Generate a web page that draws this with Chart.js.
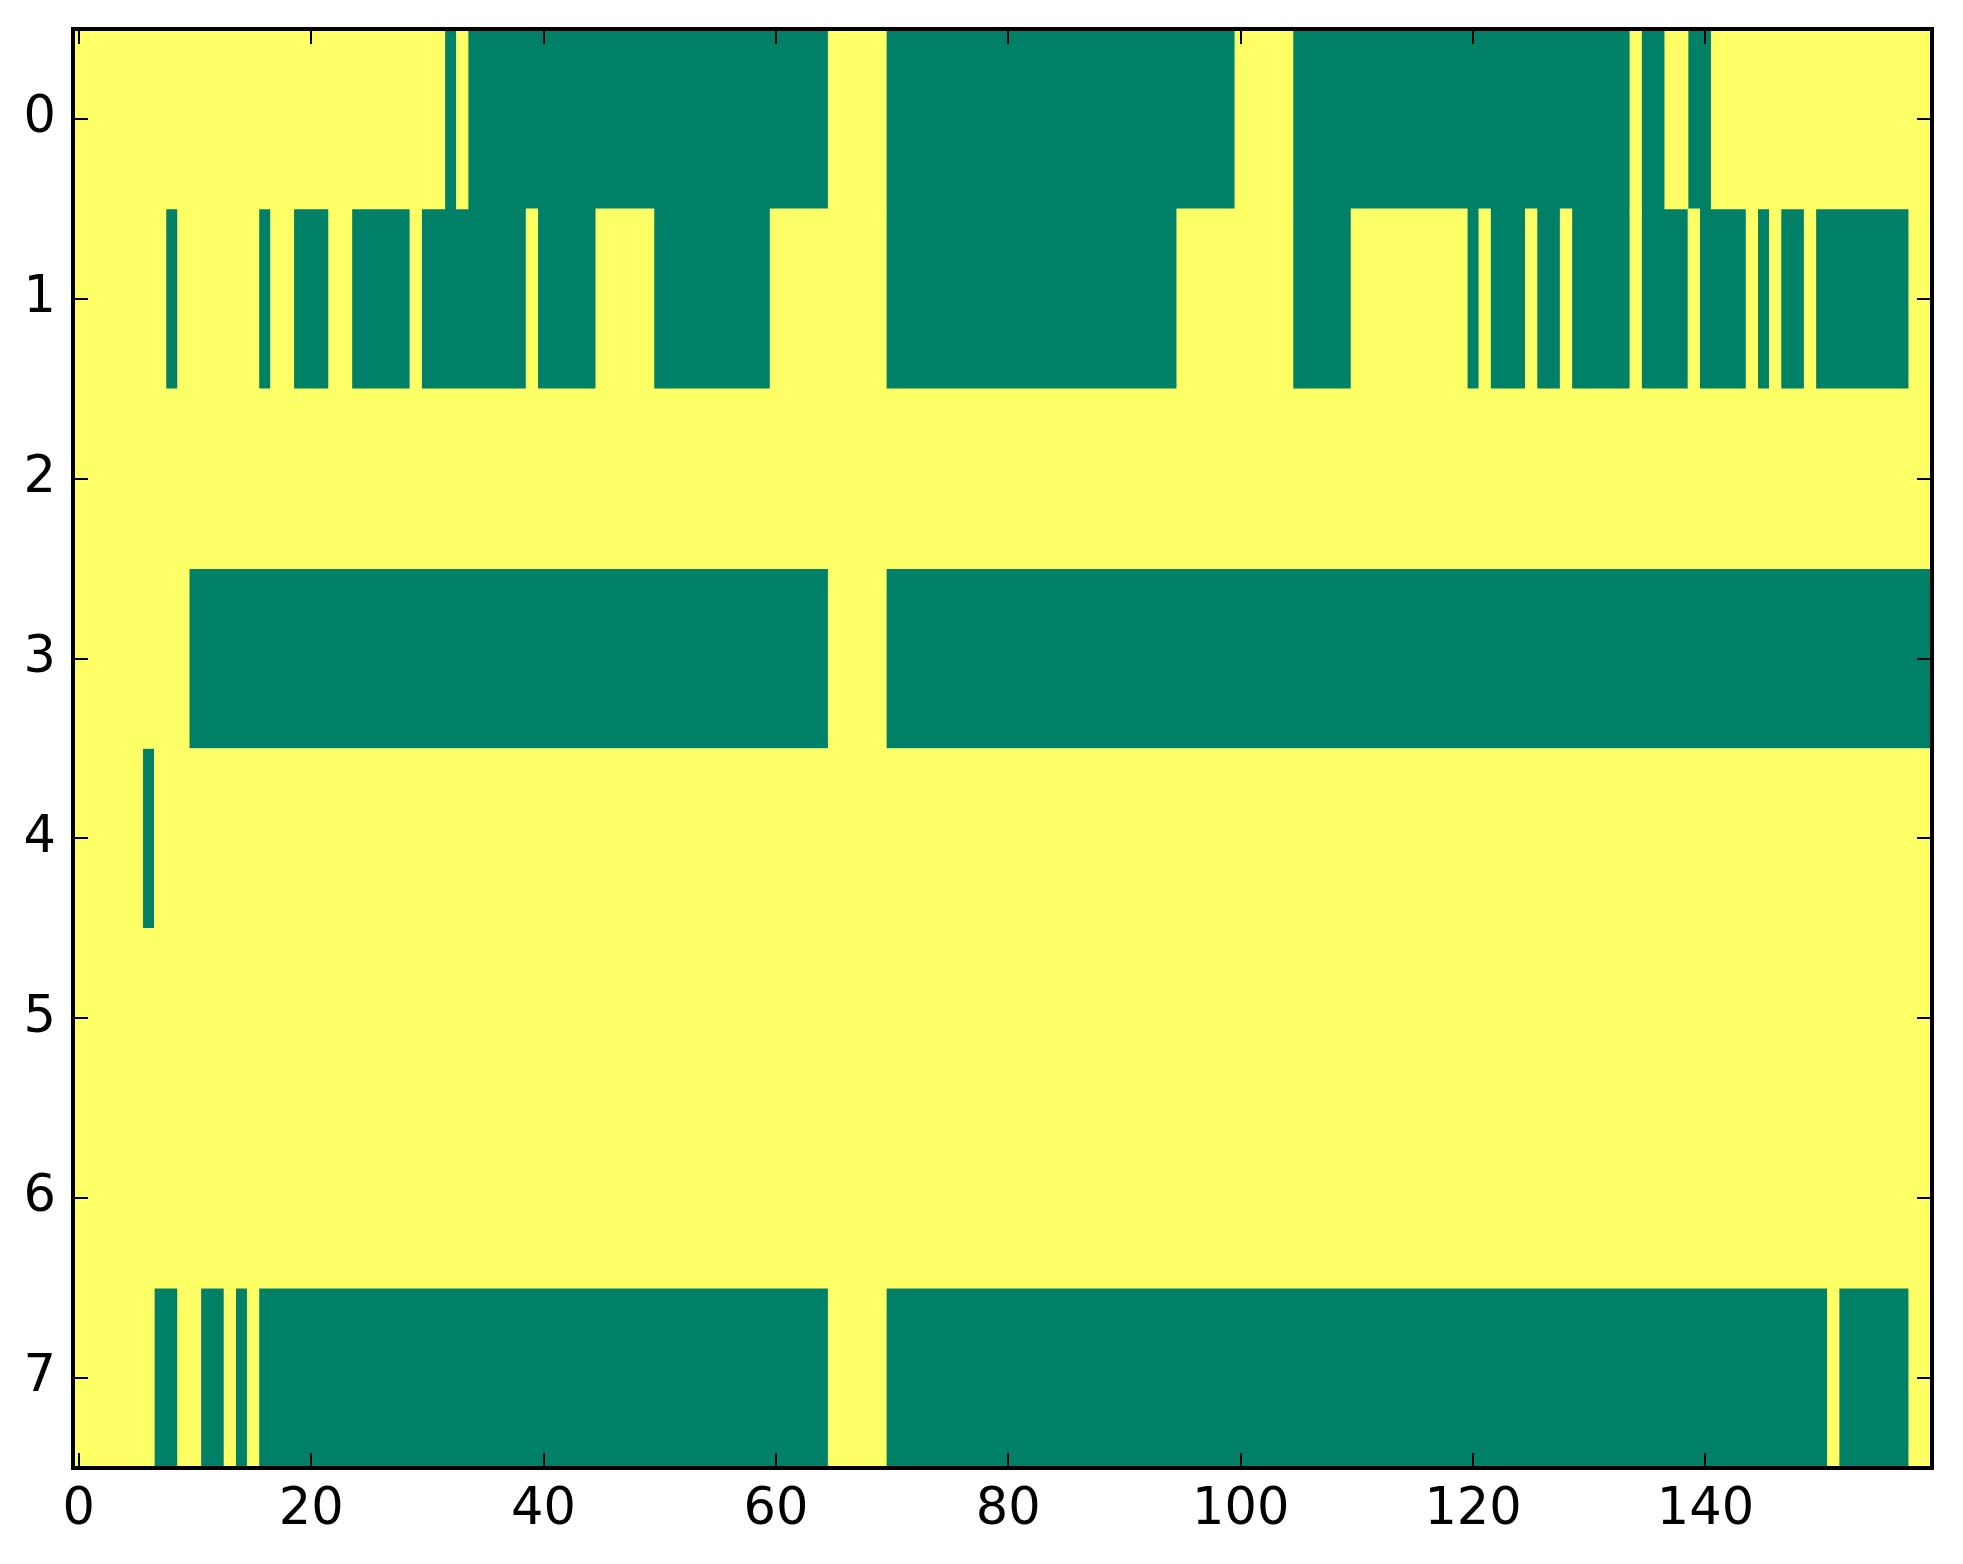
<!DOCTYPE html>
<html>
<head>
<meta charset="utf-8">
<script src="https://cdn.jsdelivr.net/npm/chart.js@4.4.1/dist/chart.umd.min.js"></script>
<style>
  html, body { margin: 0; padding: 0; background: #fff; }
  canvas { display: block; }
</style>
</head>
<body>
<canvas id="canvas1" width="1963" height="1564"></canvas>
<script>
// 8 x 160 binary image; each row lists the column runs [first, last] that hold 0 (green),
// every other cell is 1 (yellow)
const nCols = 160;
const row0 = [[32, 32], [34, 64], [70, 99], [105, 133], [135, 136], [139, 140]];
const row1 = [[8, 8], [16, 16], [19, 21], [24, 28], [30, 38], [40, 44], [50, 59], [70, 94],
              [105, 109], [120, 120], [122, 124], [126, 127], [129, 133], [135, 138],
              [140, 143], [145, 145], [147, 148], [150, 157]];
const row2 = [];
const row3 = [[10, 64], [70, 159]];
const row4 = [[6, 6]];
const row5 = [];
const row6 = [];
const row7 = [[7, 8], [11, 12], [14, 14], [16, 64], [70, 150], [152, 157]];
const rows = [row0, row1, row2, row3, row4, row5, row6, row7];

const xTicks = [0, 20, 40, 60, 80, 100, 120, 140];
const yTicks = [0, 1, 2, 3, 4, 5, 6, 7];

document.addEventListener('DOMContentLoaded', function () {
    let zeroBars = [];
    let oneBars = [];
    rows.forEach(function (runs, r) {
        let next = 0;
        runs.forEach(function (run) {
            if (run[0] > next) oneBars.push({ y: r, x: [next - 0.5, run[0] - 0.5] });
            zeroBars.push({ y: r, x: [run[0] - 0.5, run[1] + 0.5] });
            next = run[1] + 1;
        });
        if (next < nCols) oneBars.push({ y: r, x: [next - 0.5, nCols - 0.5] });
    });

    // matplotlib classic frame: box all round, ticks pointing inwards on every side
    const frame = {
        id: 'frame',
        afterDatasetsDraw(chart) {
            const { ctx, chartArea: a, scales: { x, y } } = chart;
            ctx.save();
            ctx.strokeStyle = '#000';
            ctx.lineWidth = 2;
            ctx.beginPath();
            xTicks.forEach(function (v) {
                const px = Math.round(x.getPixelForValue(v));
                ctx.moveTo(px, a.bottom); ctx.lineTo(px, a.bottom - 15);
                ctx.moveTo(px, a.top); ctx.lineTo(px, a.top + 15);
            });
            yTicks.forEach(function (v) {
                const py = Math.round(y.getPixelForValue(v));
                ctx.moveTo(a.left, py); ctx.lineTo(a.left + 15, py);
                ctx.moveTo(a.right, py); ctx.lineTo(a.right - 15, py);
            });
            ctx.stroke();
            ctx.lineWidth = 4;
            ctx.strokeRect(a.left, a.top, a.right - a.left, a.bottom - a.top);
            ctx.restore();
        }
    };

    let canvas1 = document.getElementById('canvas1');
    let chart1 = new Chart(canvas1, {
        type: 'bar',
        data: {
            datasets: [{
                label: '1',
                data: oneBars,
                backgroundColor: '#ffff66',
                borderWidth: 0,
                grouped: false
            }, {
                label: '0',
                data: zeroBars,
                backgroundColor: '#008066',
                borderWidth: 0,
                grouped: false
            }]
        },
        options: {
            indexAxis: 'y',
            responsive: false,
            animation: false,
            layout: { padding: { top: 29, right: 31, left: 0, bottom: 0 } },
            datasets: { bar: { barPercentage: 1, categoryPercentage: 1 } },
            plugins: {
                legend: { display: false },
                tooltip: { enabled: false }
            },
            scales: {
                x: {
                    type: 'linear',
                    min: -0.5,
                    max: nCols - 0.5,
                    offset: false,
                    grid: { display: false, drawTicks: false },
                    border: { display: false },
                    afterBuildTicks: function (s) { s.ticks = xTicks.map(v => ({ value: v })); },
                    afterFit: function (s) {
                        s.height = 96;
                        s.paddingLeft = 0;
                        s.paddingRight = 0;
                    },
                    ticks: {
                        autoSkip: false,
                        maxRotation: 0,
                        padding: 12,
                        color: '#000',
                        font: { family: 'DejaVu Sans', size: 51 }
                    }
                },
                y: {
                    type: 'linear',
                    reverse: true,
                    min: -0.5,
                    max: 7.5,
                    offset: false,
                    grid: { display: false, drawTicks: false, offset: false },
                    border: { display: false },
                    afterBuildTicks: function (s) { s.ticks = yTicks.map(v => ({ value: v })); },
                    afterFit: function (s) {
                        s.width = 73;
                        s.paddingTop = 0;
                        s.paddingBottom = 0;
                    },
                    ticks: {
                        autoSkip: false,
                        padding: 17,
                        color: '#000',
                        font: { family: 'DejaVu Sans', size: 51 }
                    }
                }
            }
        },
        plugins: [frame]
    });
});
</script>
</body>
</html>
